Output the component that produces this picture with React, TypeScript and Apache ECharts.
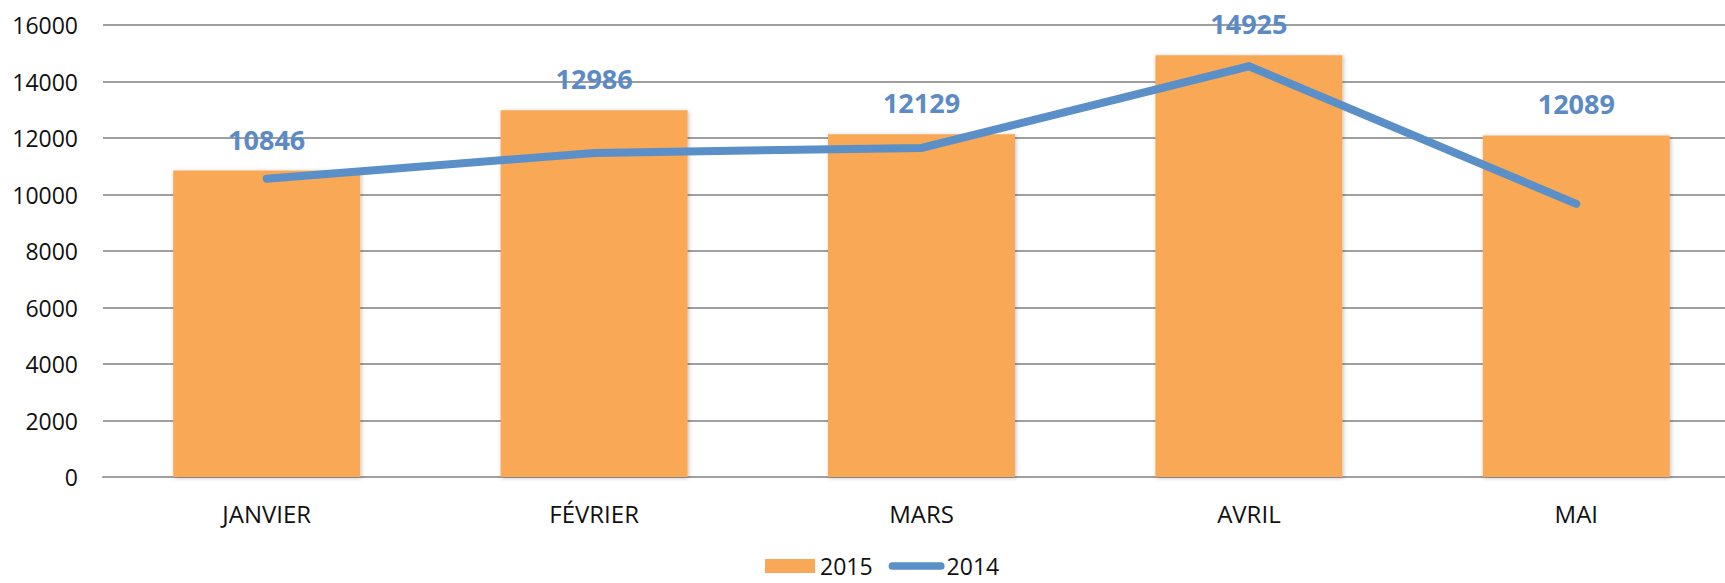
import React, { useEffect, useRef } from "react";
import * as echarts from "echarts";

const categories = ["JANVIER", "FÉVRIER", "MARS", "AVRIL", "MAI"];
const values2015 = [10846, 12986, 12129, 14925, 12089];
const values2014 = [10560, 11470, 11650, 14540, 9670];
const yTicks = { min: 0, max: 16000, interval: 2000 };

const FONT = "'Open Sans', sans-serif";
const LINE_ICON = "path://M4,0 L54,0 A4,4 0 0 1 54,8 L4,8 A4,4 0 0 1 4,0 Z";
const RECT_ICON = "path://M0,0 L50,0 L50,14 L0,14 Z";

export default function App() {
  const ref = useRef<HTMLDivElement>(null);
  useEffect(() => {
    if (!ref.current) return;
    const chart = echarts.init(ref.current, null, { renderer: "svg" });
    chart.setOption({
      animation: false,
      textStyle: { fontFamily: FONT },
      grid: { left: 103, right: 0, top: 25, bottom: 106, containLabel: false },
      legend: {
        top: 553,
        left: 765,
        padding: 0,
        itemWidth: 56,
        itemHeight: 14,
        itemGap: 16,
        textStyle: { fontFamily: FONT, fontSize: 23, lineHeight: 26, color: "#111", padding: [0, 0, 0, -3] },
        data: [
          { name: "2015", icon: RECT_ICON, itemStyle: { color: "#F9A857", shadowBlur: 0 } },
          { name: "2014", icon: LINE_ICON, itemStyle: { color: "#5B8FC7", borderWidth: 0 } },
        ],
      },
      xAxis: {
        type: "category",
        data: categories,
        axisLine: { show: true, lineStyle: { color: "#9f9f9f", width: 2 } },
        axisTick: { show: false },
        axisLabel: { color: "#111", fontFamily: FONT, fontSize: 24, margin: 24 },
      },
      yAxis: {
        type: "value",
        min: yTicks.min,
        max: yTicks.max,
        interval: yTicks.interval,
        axisLine: { show: false },
        axisTick: { show: false },
        axisLabel: {
          color: "#111",
          fontFamily: FONT,
          fontSize: 23,
          margin: 25,
          formatter: (v: number) => String(v),
        },
        splitLine: { lineStyle: { color: "#9f9f9f", width: 2 } },
      },
      series: [
        {
          name: "2015",
          type: "bar",
          data: values2015,
          barWidth: 187,
          itemStyle: {
            color: "#F9A857",
            shadowColor: "rgba(0,0,0,0.25)",
            shadowBlur: 4,
            shadowOffsetX: 1,
            shadowOffsetY: 1,
          },
          label: {
            show: true,
            position: "top",
            distance: 18,
            color: "#5B8AC4",
            fontFamily: FONT,
            fontWeight: "bold",
            fontSize: 27,
          },
        },
        {
          name: "2014",
          type: "line",
          data: values2014,
          symbol: "none",
          showSymbol: false,
          lineStyle: { color: "#5B8FC7", width: 8, cap: "round", join: "miter" },
          itemStyle: { color: "#5B8FC7" },
        },
      ],
    });
    return () => chart.dispose();
  }, []);
  return (
    <div
      style={{
        position: "fixed",
        left: 0,
        top: 0,
        width: 1725,
        height: 583,
        overflow: "hidden",
        background: "#fff",
      }}
    >
      <div ref={ref} style={{ width: 1740, height: 583 }} />
    </div>
  );
}
